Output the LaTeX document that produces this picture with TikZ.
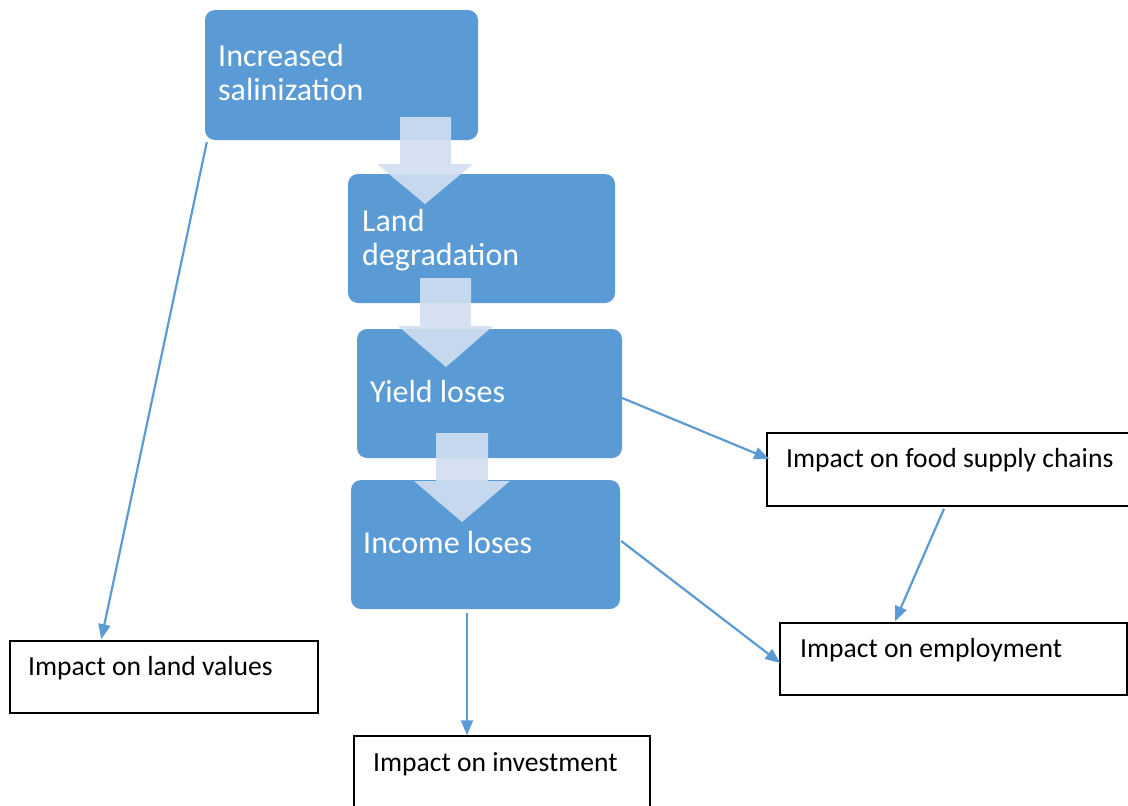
\documentclass[tikz,border=0pt]{standalone}
\usepackage{fontspec}
\setmainfont{Carlito}
\usetikzlibrary{arrows.meta,calc}
\definecolor{stageblue}{HTML}{5B9BD5}
\definecolor{flowfill}{HTML}{D2DFF0}
\definecolor{linkblue}{HTML}{5B9BD5}

\begin{document}
\begin{tikzpicture}[x=1pt,y=-1pt,
  stagebox/.style={fill=stageblue, draw=none, rounded corners=10pt, inner sep=0pt},
  impactbox/.style={draw=black, line width=1.5pt, fill=white, inner sep=0pt},
  stagetext/.style={text=white, inner sep=0pt, anchor=base west, align=left,
    font=\fontsize{32}{33.5}\selectfont},
  impacttext/.style={text=black, inner sep=0pt, anchor=base west,
    font=\fontsize{27.6}{32}\selectfont},
  flowarrow/.style={fill=flowfill, fill opacity=0.9, draw=none},
  link/.style={draw=linkblue, line width=2.2pt, -{Triangle[length=15pt,width=12pt]}}]

\useasboundingbox (0,0) rectangle (1128,806);

% stage boxes of the causal chain
\node[stagebox, minimum width=273pt, minimum height=130pt] (sal) at (341.5,75) {};
\node[stagebox, minimum width=267pt, minimum height=129pt] (deg) at (481.5,238.5) {};
\node[stagebox, minimum width=265pt, minimum height=129pt] (yld) at (489.5,393.5) {};
\node[stagebox, minimum width=269pt, minimum height=129pt] (inc) at (485.5,544.5) {};

% block arrows between the stages
\path[flowarrow] (400,117) -- (451,117) -- (451,164) -- (473,164) -- (425,204) -- (377,164) -- (400,164) -- cycle;
\path[flowarrow] (420,278) -- (471,278) -- (471,326) -- (493,326) -- (446,367) -- (398,326) -- (420,326) -- cycle;
\path[flowarrow] (436,433) -- (488,433) -- (488,481) -- (510,481) -- (462,522) -- (414,481) -- (436,481) -- cycle;

% stage labels (base anchor sits on the last line)
\node[stagetext] (saltext) at (218,100) {Increased\\salinization};
\node[stagetext] (degtext) at (362,265) {Land\\degradation};
\node[stagetext] (yldtext) at (370,402) {Yield loses};
\node[stagetext] (inctext) at (363,553) {Income loses};

% impact boxes
\node[impactbox, minimum width=368pt, minimum height=73pt] (food) at (951,469.5) {};
\node[impactbox, minimum width=347pt, minimum height=72pt] (emp) at (953.5,659) {};
\node[impactbox, minimum width=308pt, minimum height=72pt] (lv) at (164,677) {};
\node[impactbox, minimum width=296pt, minimum height=72pt] (inv) at (502,772) {};

\node[impacttext] (foodtext) at (786,467) {Impact on food supply chains};
\node[impacttext] (emptext) at (800,657) {Impact on employment};
\node[impacttext] (lvtext) at (28,675) {Impact on land values};
\node[impacttext] (invtext) at (373,771) {Impact on investment};

% connectors
\draw[link] ($(sal.south west)+(2,2)$) -- ($(lv.north west)+(92,-1)$);
\draw[link] ($(yld.east)+(0,4.5)$) -- ($(food.west)+(3,-10.5)$);
\draw[link] ($(food.south)+(-7,2)$) -- ($(emp.north)+(-58.5,-1)$);
\draw[link] ($(inc.east)+(1,-3.5)$) -- ($(emp.west)+(1,4)$);
\draw[link] ($(inc.south)+(-18.5,4)$) -- ($(inv.north)+(-35,0)$);
\end{tikzpicture}
\end{document}
